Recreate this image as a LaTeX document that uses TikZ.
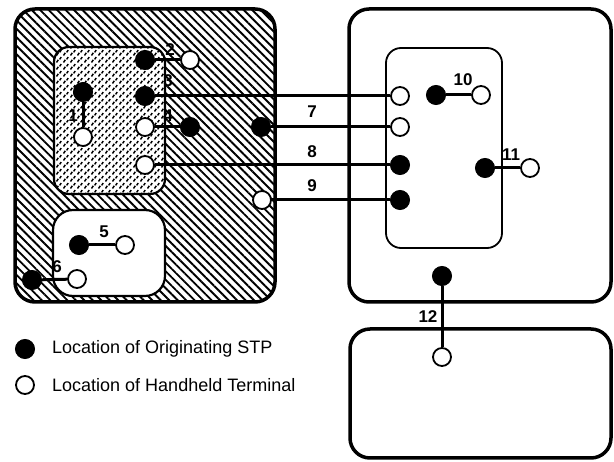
\documentclass[tikz,border=0pt]{standalone}
\usepackage{fontspec}
\setmainfont{Liberation Sans}
\usepackage{tikz}
\usetikzlibrary{calc,patterns,patterns.meta,positioning}

\tikzdeclarepattern{
  name=dashgrid,
  type=uncolored,
  bottom left={(0pt,0pt)},
  top right={(7pt,7pt)},
  tile size={(7pt,7pt)},
  code={
    \draw[line width=1.6pt] (0.6pt,0.6pt) -- (2.6pt,3.6pt);
    \draw[line width=1.6pt] (4.1pt,4.1pt) -- (5.9pt,6.7pt);
  }
}

\tikzset{stp/.style={circle,fill=black,draw=black,line width=1pt,minimum size=19pt,inner sep=0pt},
         ht/.style={circle,fill=white,draw=black,line width=1.8pt,minimum size=18pt,inner sep=0pt},
         link/.style={line width=3pt},
         lab/.style={font=\fontsize{17}{19}\selectfont\bfseries,inner sep=0pt},
         keytext/.style={font=\fontsize{18}{20}\selectfont,inner sep=0pt,anchor=west}}

\begin{document}
\begin{tikzpicture}[x=1pt,y=-1pt]

\useasboundingbox (0,0) rectangle (614,462);

% Left region
\fill[white] (15,9) rectangle (275,302);
\fill[pattern={Lines[angle=-45,distance=6pt,line width=1.9pt]}] [rounded corners=20pt] (15,9) rectangle (275,302);
\fill[white,rounded corners=15pt] (54,47) rectangle (165,194);
\fill[pattern=dashgrid,rounded corners=15pt] (54,47) rectangle (165,194);
\draw[line width=2.2pt,rounded corners=15pt] (54,47) rectangle (165,194);
\fill[white,rounded corners=20pt] (53,210) rectangle (165,296);
\draw[line width=2.2pt,rounded corners=20pt] (53,210) rectangle (165,296);
\draw[line width=3.5pt,rounded corners=20pt] (15,9) rectangle (275,302);

% Right regions
\draw[line width=3.5pt,rounded corners=20pt] (349,9) rectangle (611,302);
\draw[line width=1.8pt,rounded corners=15pt] (386,48) rectangle (502,248);
\draw[line width=3.5pt,rounded corners=20pt] (350,329) rectangle (611,458);

% Nodes
\node[stp] (stp1) at (83,92)  {};
\node[ht]  (ht1)  at (83,137) {};
\node[stp] (stp2) at (145,60) {};
\node[ht]  (ht2)  at (190,60) {};
\node[stp] (stp3) at (145,96) {};
\node[ht]  (ht3)  at (400,96) {};
\node[ht]  (ht4)  at (145,127) {};
\node[stp] (stp4) at (190,127) {};
\node[stp] (stp5) at (79,245) {};
\node[ht]  (ht5)  at (125,245) {};
\node[stp] (stp6) at (32,280) {};
\node[ht]  (ht6)  at (77,279) {};
\node[stp] (stp7) at (261,127) {};
\node[ht]  (ht7)  at (400,127) {};
\node[ht]  (ht8)  at (145,165) {};
\node[stp] (stp8) at (400,165) {};
\node[ht]  (ht9)  at (262,200) {};
\node[stp] (stp9) at (400,200) {};
\node[stp] (stp10) at (436,95) {};
\node[ht]  (ht10)  at (481,95) {};
\node[stp] (stp11) at (485,168) {};
\node[ht]  (ht11)  at (530,168) {};
\node[stp] (stp12) at (442,276) {};
\node[ht]  (ht12)  at (442,357) {};

% Connections
\draw[link] (stp1) -- (ht1);
\draw[link] (stp2) -- (ht2);
\draw[link] (stp3) -- (ht3);
\draw[link] (ht4) -- (stp4);
\draw[link] (stp5) -- (ht5);
\draw[link] (stp6) -- (ht6);
\draw[link] (stp7) -- (ht7);
\draw[link] (ht8) -- (stp8);
\draw[link] (ht9) -- (stp9);
\draw[link] (stp10) -- (ht10);
\draw[link] (stp11) -- (ht11);
\draw[link] (stp12) -- (ht12);

% Number labels
\node[lab] (lab1)  at (73,116)  {1};
\node[lab] (lab2)  at (170,50)  {2};
\node[lab] (lab3)  at (168,81)  {3};
\node[lab] (lab4)  at (168,116) {4};
\node[lab] (lab5)  at (104,232) {5};
\node[lab] (lab6)  at (57,267)  {6};
\node[lab] (lab7)  at (312,112) {7};
\node[lab] (lab8)  at (312,152) {8};
\node[lab] (lab9)  at (312,186) {9};
\node[lab] (lab10) at (463,80)  {10};
\node[lab] (lab11) at (511,155) {11};
\node[lab] (lab12) at (428,317) {12};

% Key
\node[stp] (stpkey) at (25,349) {};
\node[ht]  (htkey)  at (25,385) {};
\node[keytext] (stptext) at (52,349) {Location of Originating STP};
\node[keytext] (httext)  at (52,385) {Location of Handheld Terminal};

\end{tikzpicture}
\end{document}
